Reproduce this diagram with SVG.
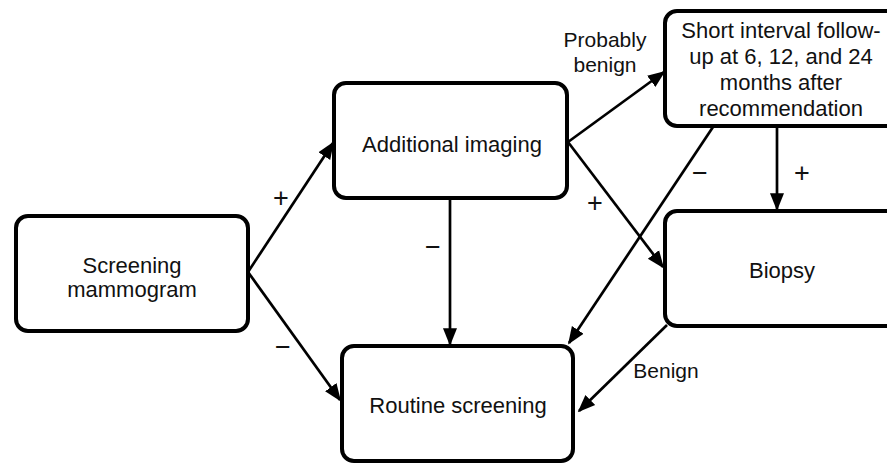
<svg xmlns="http://www.w3.org/2000/svg" width="887" height="466" viewBox="0 0 887 466">
<style>
.box{fill:#fff;stroke:#000;stroke-width:4}
.t{font-family:"Liberation Sans",Arial,sans-serif;font-size:22px;fill:#111;text-anchor:middle}
.l{font-family:"Liberation Sans",Arial,sans-serif;font-size:21px;fill:#111;text-anchor:middle}
.s{font-family:"Liberation Sans",Arial,sans-serif;font-size:27px;fill:#111;text-anchor:middle}
.c{stroke:#000;stroke-width:2.7;fill:none;marker-end:url(#ah)}
</style>
<defs>
<marker id="ah" viewBox="0 0 10 10" refX="9" refY="5" markerWidth="6.5" markerHeight="6.5" markerUnits="strokeWidth" orient="auto">
<path d="M0,1 L10,5 L0,9 z" fill="#000"/>
</marker>
</defs>
<rect width="887" height="466" fill="#fff"/>
<g id="connectors">
<line class="c" x1="248" y1="272" x2="333" y2="143"/>
<line class="c" x1="248" y1="272" x2="340" y2="400"/>
<line class="c" x1="450" y1="198" x2="450" y2="344"/>
<line class="c" x1="568" y1="142" x2="664" y2="72"/>
<line class="c" x1="568" y1="142" x2="663" y2="267"/>
<line class="c" x1="713" y1="127" x2="569" y2="343"/>
<line class="c" x1="777" y1="127" x2="777" y2="209"/>
<line class="c" x1="667" y1="325" x2="579" y2="411"/>
<text class="s" x="281" y="207">+</text>
<text class="s" x="283" y="356">−</text>
<text class="s" x="433" y="256">−</text>
<text class="s" x="595" y="212">+</text>
<text class="s" x="700" y="182">−</text>
<text class="s" x="802" y="182">+</text>
<text class="l" x="605" y="47">Probably</text>
<text class="l" x="605" y="72">benign</text>
<text class="l" x="666" y="378">Benign</text>
</g>
<g id="screening">
<rect class="box" x="16" y="216" width="232" height="115" rx="12"/>
<text class="t" x="132" y="273">Screening</text>
<text class="t" x="132" y="297">mammogram</text>
</g>
<g id="additional">
<rect class="box" x="334" y="83" width="233" height="115" rx="12"/>
<text class="t" x="452" y="152">Additional imaging</text>
</g>
<g id="shortinterval">
<rect class="box" x="665" y="11" width="234" height="115" rx="12"/>
<text class="t" x="781" y="38">Short interval follow-</text>
<text class="t" x="781" y="64">up at 6, 12, and 24</text>
<text class="t" x="781" y="90">months after</text>
<text class="t" x="781" y="116">recommendation</text>
</g>
<g id="biopsy">
<rect class="box" x="665" y="211" width="234" height="115" rx="12"/>
<text class="t" x="782" y="278">Biopsy</text>
</g>
<g id="routine">
<rect class="box" x="342" y="346" width="231" height="115" rx="12"/>
<text class="t" x="458" y="413">Routine screening</text>
</g>
</svg>
